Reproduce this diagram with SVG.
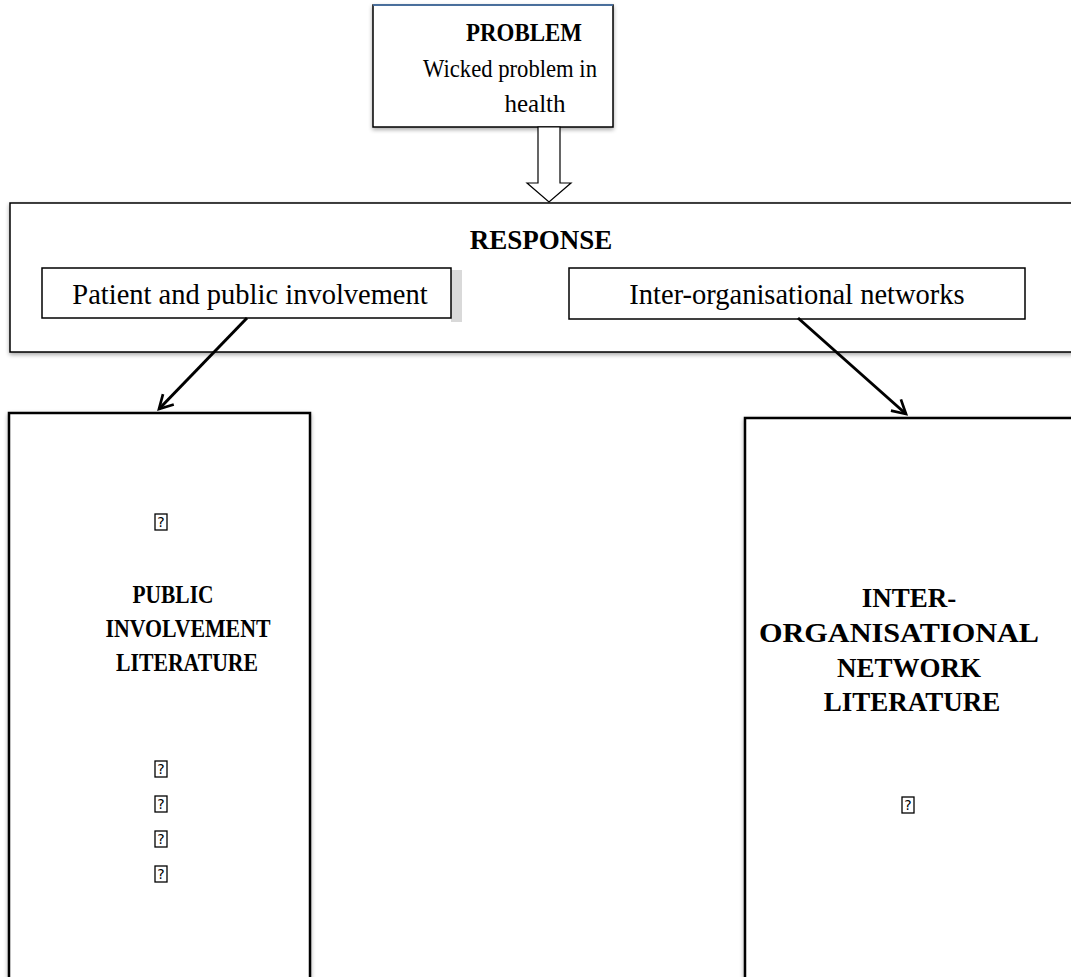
<svg xmlns="http://www.w3.org/2000/svg" width="1071" height="977" viewBox="0 0 1071 977">
  <style>
    .box { fill: #ffffff; stroke: #000000; stroke-width: 1.5; }
    .thick { fill: #ffffff; stroke: #000000; stroke-width: 2.5; }
    .bold { font-family: "Liberation Serif", "Times New Roman", serif; font-weight: bold; font-size: 26px; fill: #000; text-anchor: middle; }
    .bold27 { font-family: "Liberation Serif", "Times New Roman", serif; font-weight: bold; font-size: 27px; fill: #000; text-anchor: middle; }
    .reg { font-family: "Liberation Serif", "Times New Roman", serif; font-size: 25px; fill: #000; text-anchor: middle; }
    .lbl { font-family: "Liberation Serif", "Times New Roman", serif; font-size: 28.5px; fill: #000; text-anchor: middle; }
    .glyph { fill: #ffffff; stroke: #000000; stroke-width: 1.3; }
    .q { font-family: "DejaVu Sans", sans-serif; font-size: 14px; fill: #000; text-anchor: middle; }
    .conn { stroke: #000000; stroke-width: 3; fill: none; }
  </style>
  <defs>
    <filter id="shadow" x="-10%" y="-10%" width="120%" height="120%">
      <feGaussianBlur in="SourceAlpha" stdDeviation="2"/>
      <feOffset dx="0" dy="2" result="b"/>
      <feComponentTransfer><feFuncA type="linear" slope="0.35"/></feComponentTransfer>
      <feMerge><feMergeNode/><feMergeNode in="SourceGraphic"/></feMerge>
    </filter>
    <marker id="vhead" viewBox="0 0 12 12" refX="10" refY="6" markerWidth="6" markerHeight="6" orient="auto" markerUnits="strokeWidth">
      <path d="M1,1 L10,6 L1,11" fill="none" stroke="#000" stroke-width="1.8"/>
    </marker>
  </defs>

  <rect x="0" y="0" width="1071" height="977" fill="#ffffff"/>

  <!-- problem statement -->
  <g id="problem">
    <rect class="box" x="373" y="5" width="240" height="122" filter="url(#shadow)"/>
    <line x1="373" y1="5" x2="613" y2="5" stroke="#4f81bd" stroke-width="1.5"/>
    <text class="bold" x="524" y="41" textLength="116" lengthAdjust="spacingAndGlyphs">PROBLEM</text>
    <text class="reg" x="510" y="77" textLength="174" lengthAdjust="spacingAndGlyphs">Wicked problem in</text>
    <text class="reg" x="535" y="112">health</text>
  </g>

  <!-- response container with its two strands -->
  <g id="response">
    <rect class="box" x="10" y="203" width="1075" height="149" filter="url(#shadow)"/>
    <text class="bold27" x="541" y="249">RESPONSE</text>
  </g>
  <g id="ppi">
    <rect x="451" y="270" width="11" height="52" fill="#d9d9d9"/>
    <rect class="box" x="42" y="268" width="409" height="50"/>
    <text class="lbl" x="250" y="304">Patient and public involvement</text>
  </g>
  <g id="ion">
    <rect class="box" x="569" y="268" width="456" height="51"/>
    <text class="lbl" x="797" y="304">Inter-organisational networks</text>
  </g>

  <!-- literature columns -->
  <g id="pi-literature">
    <rect class="thick" x="9" y="413" width="301" height="600" filter="url(#shadow)"/>
    <rect class="glyph" x="155" y="514" width="12" height="16"/>
    <text class="q" x="161" y="527">?</text>
    <text class="bold" x="173" y="603" textLength="81" lengthAdjust="spacingAndGlyphs">PUBLIC</text>
    <text class="bold" x="188" y="637" textLength="165" lengthAdjust="spacingAndGlyphs">INVOLVEMENT</text>
    <text class="bold" x="187" y="671" textLength="142" lengthAdjust="spacingAndGlyphs">LITERATURE</text>
    <rect class="glyph" x="155" y="761" width="12" height="16"/>
    <text class="q" x="161" y="774">?</text>
    <rect class="glyph" x="155" y="796" width="12" height="16"/>
    <text class="q" x="161" y="809">?</text>
    <rect class="glyph" x="155" y="831" width="12" height="16"/>
    <text class="q" x="161" y="844">?</text>
    <rect class="glyph" x="155" y="866" width="12" height="16"/>
    <text class="q" x="161" y="879">?</text>
  </g>
  <g id="ion-literature">
    <rect class="thick" x="745" y="418" width="340" height="600" filter="url(#shadow)"/>
    <text class="bold27" x="909" y="607">INTER-</text>
    <text class="bold27" x="899" y="642" textLength="280" lengthAdjust="spacingAndGlyphs">ORGANISATIONAL</text>
    <text class="bold27" x="909" y="677">NETWORK</text>
    <text class="bold27" x="912" y="711">LITERATURE</text>
    <rect class="glyph" x="902" y="797" width="12" height="16"/>
    <text class="q" x="908" y="810">?</text>
  </g>

  <!-- connectors -->
  <g id="connectors">
    <path d="M538,127 L560,127 L560,183 L571,183 L549,202 L527,183 L538,183 Z" fill="#ffffff" stroke="#000" stroke-width="1.2"/>
    <line class="conn" x1="247" y1="318" x2="159" y2="409" marker-end="url(#vhead)"/>
    <line class="conn" x1="798" y1="318" x2="906" y2="414" marker-end="url(#vhead)"/>
  </g>
</svg>
